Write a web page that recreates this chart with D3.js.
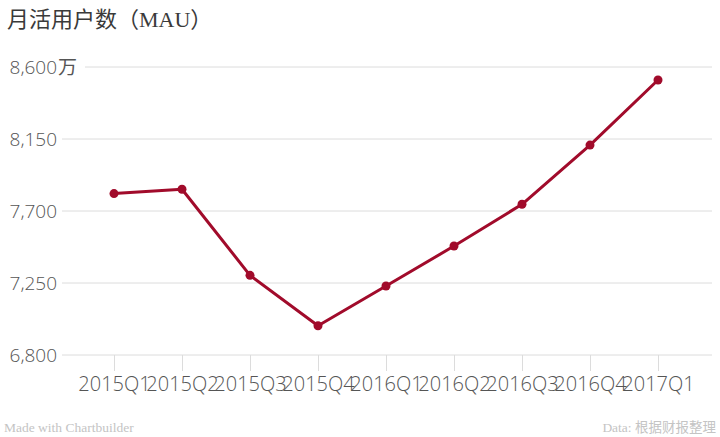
<!DOCTYPE html>
<html><head><meta charset="utf-8">
<script src="https://cdn.jsdelivr.net/npm/d3@7"></script>
<style>
html,body{margin:0;padding:0;background:#fff;}
svg{display:block;}
</style></head>
<body>
<svg id="c" width="720" height="437"></svg>
<script>
const categories = ["2015Q1","2015Q2","2015Q3","2015Q4","2016Q1","2016Q2","2016Q3","2016Q4","2017Q1"];
const mauValues = [7809, 7836, 7298, 6983, 7231, 7481, 7742, 8112, 8519];
const yTicks = [6800, 7250, 7700, 8150, 8600];
const titleText = "月活用户数（MAU）";
const unitText = "万";
const creditLeft = "Made with Chartbuilder";
const creditRight = "Data: 根据财报整理";

const svg = d3.select("#c");
const x = d3.scalePoint().domain(categories).range([114, 658]);
const y = d3.scaleLinear().domain([6800, 8600]).range([355, 67]);
const gridLeft = 62, gridRight = 712;
const lineColor = "#a10b2b";
const axisFont = "'Open Sans', sans-serif";

// Title
svg.append("text").attr("x", 7).attr("y", 27)
  .attr("font-family", "'Liberation Serif', 'Noto Sans CJK SC', serif")
  .attr("font-size", 22).attr("fill", "#3a3a3a").text(titleText);

// Gridlines
const yAxis = d3.axisLeft(y).tickValues(yTicks).tickSize(0).tickFormat(d3.format(","));
svg.append("g").selectAll("line.grid").data(yTicks).join("line")
  .attr("class", "grid")
  .attr("x1", d => d === 8600 ? 85 : gridLeft).attr("x2", gridRight)
  .attr("y1", d => y(d)).attr("y2", d => y(d))
  .attr("stroke", "#dcdcdc").attr("stroke-width", 1);

// Y labels
const gyl = svg.append("g").attr("transform", "translate(57,0)").call(yAxis);
gyl.select(".domain").remove();
gyl.selectAll("text").attr("font-family", axisFont).attr("font-weight", 300)
  .attr("font-size", 19).attr("fill", "#555").attr("dy", "0.35em").attr("x", 0);
svg.append("text").attr("x", 58).attr("y", y(8600)).attr("dy", "0.35em")
  .attr("font-family", "'Noto Sans CJK SC', sans-serif").attr("font-weight", 400)
  .attr("font-size", 19).attr("fill", "#555").text(unitText);

// X axis
const xAxis = d3.axisBottom(x).tickSize(16).tickPadding(6);
const gx = svg.append("g").attr("transform", `translate(0,${y(6800)})`).call(xAxis);
gx.select(".domain").remove();
gx.selectAll("line").attr("stroke", "#dcdcdc");
gx.selectAll("text").attr("font-family", axisFont).attr("font-weight", 300)
  .attr("font-size", 20).attr("fill", "#555");

// Line
const data = categories.map((c, i) => ({c, v: mauValues[i]}));
svg.append("path").datum(data)
  .attr("d", d3.line().x(d => x(d.c)).y(d => y(d.v)))
  .attr("fill", "none").attr("stroke", lineColor).attr("stroke-width", 3)
  .attr("stroke-linejoin", "round");
svg.selectAll("circle.pt").data(data).join("circle")
  .attr("class", "pt").attr("cx", d => x(d.c)).attr("cy", d => y(d.v))
  .attr("r", 4.5).attr("fill", lineColor);

// Credits
svg.append("text").attr("x", 4).attr("y", 432)
  .attr("font-family", "'Liberation Serif', serif").attr("font-size", 13.5)
  .attr("fill", "#c4c4c4").text(creditLeft);
svg.append("text").attr("x", 716).attr("y", 432).attr("text-anchor", "end")
  .attr("font-family", "'Liberation Serif', 'Noto Sans CJK SC', serif").attr("font-size", 13.5)
  .attr("fill", "#c4c4c4").text(creditRight);
</script>
</body></html>
